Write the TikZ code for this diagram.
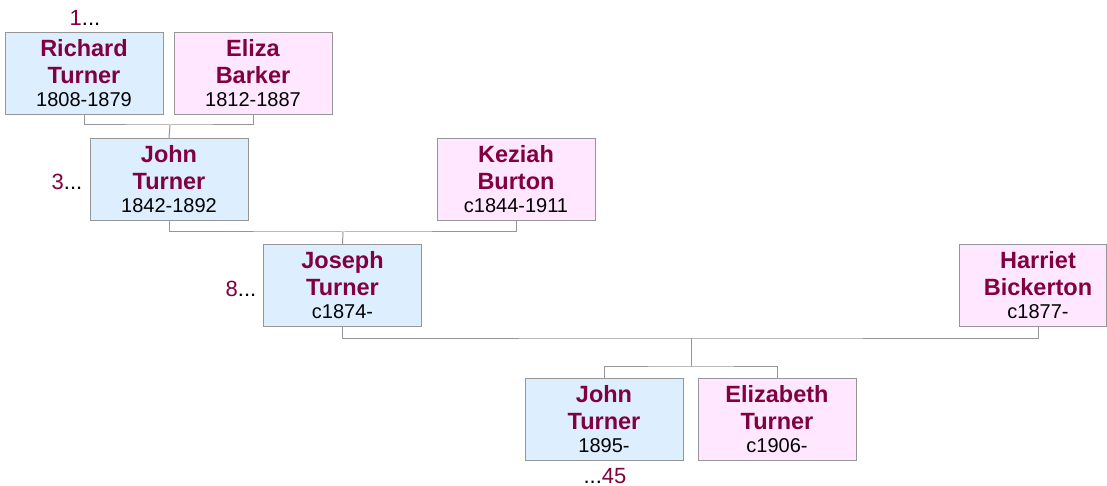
\documentclass[tikz,border=0pt]{standalone}
\usepackage{fontspec}
\setmainfont{Liberation Sans}
\definecolor{namecol}{RGB}{128,0,64}
\definecolor{malefill}{RGB}{221,238,255}
\definecolor{femfill}{RGB}{255,232,255}
\definecolor{edgecol}{RGB}{150,150,150}
\definecolor{linecol}{RGB}{150,150,150}
\tikzset{
  pbox/.style={draw=edgecol, line width=1pt, minimum width=158pt, minimum height=82pt, inner sep=0pt, anchor=north},
  male/.style={pbox, fill=malefill},
  female/.style={pbox, fill=femfill},
  nm/.style={anchor=base, inner sep=0pt, text=namecol, font=\fontsize{23.5}{26}\selectfont\bfseries},
  dt/.style={anchor=base, inner sep=0pt, text=black, font=\fontsize{20}{22}\selectfont},
  num/.style={anchor=base, inner sep=0pt, font=\fontsize{22}{24}\selectfont},
  conn/.style={draw=linecol, line width=1pt}
}
\newcommand\fperson[7]{%
  \node[#4] (#1) at (#2,#3) {};
  \node[nm] (#1a) at (#2,#3+24.5) {#5};
  \node[nm] (#1b) at (#2,#3+51.5) {#6};
  \node[dt] (#1c) at (#2,#3+74.5) {#7};
}
\begin{document}
\begin{tikzpicture}[x=1pt,y=-1pt]
\useasboundingbox[fill=white] (0,0) rectangle (1107,486);
% generation 1
\fperson{rt}{84}{32}{male}{Richard}{Turner}{1808-1879}
\fperson{eb}{253}{32}{female}{Eliza}{Barker}{1812-1887}
% generation 2
\fperson{jt}{169}{138}{male}{John}{Turner}{1842-1892}
\fperson{kb}{516}{138}{female}{Keziah}{Burton}{c1844-1911}
% generation 3
\fperson{jo}{342.5}{244}{male}{Joseph}{Turner}{c1874-}
\node[female, minimum width=147pt] (hb) at (1032.5,244) {};
\node[nm] (hba) at (1038,268.5) {Harriet};
\node[nm] (hbb) at (1038,295.5) {Bickerton};
\node[dt] (hbc) at (1038,318.5) {c1877-};
\coordinate (hbs) at (1038,327);
% generation 4
\fperson{jn}{604}{378}{male}{John}{Turner}{1895-}
\fperson{et}{777}{378}{female}{Elizabeth}{Turner}{c1906-}
% numbers
\node[num] (n1) at (85,26) {\textcolor{namecol}{1}...};
\node[num] (n3) at (67,190) {\textcolor{namecol}{3}...};
\node[num] (n8) at (241,296) {\textcolor{namecol}{8}...};
\node[num] (n45) at (605,483) {...\textcolor{namecol}{45}};
% connectors
\coordinate (c1) at (170,125);
\draw[conn] (rt.south) |- (c1) -| (eb.south);
\draw[conn] (c1) -- (jt.north);
\coordinate (c2) at (343,232);
\draw[conn] (jt.south) |- (c2) -| (kb.south);
\draw[conn] (c2) -- (jo.north);
\coordinate (c3) at (691,338);
\draw[conn] (jo.south) |- (c3) -| (hbs);
\coordinate (c4) at (691,366);
\draw[conn] (c3) -- (c4);
\draw[conn] (jn.north) |- (c4) -| (et.north);
\end{tikzpicture}
\end{document}
